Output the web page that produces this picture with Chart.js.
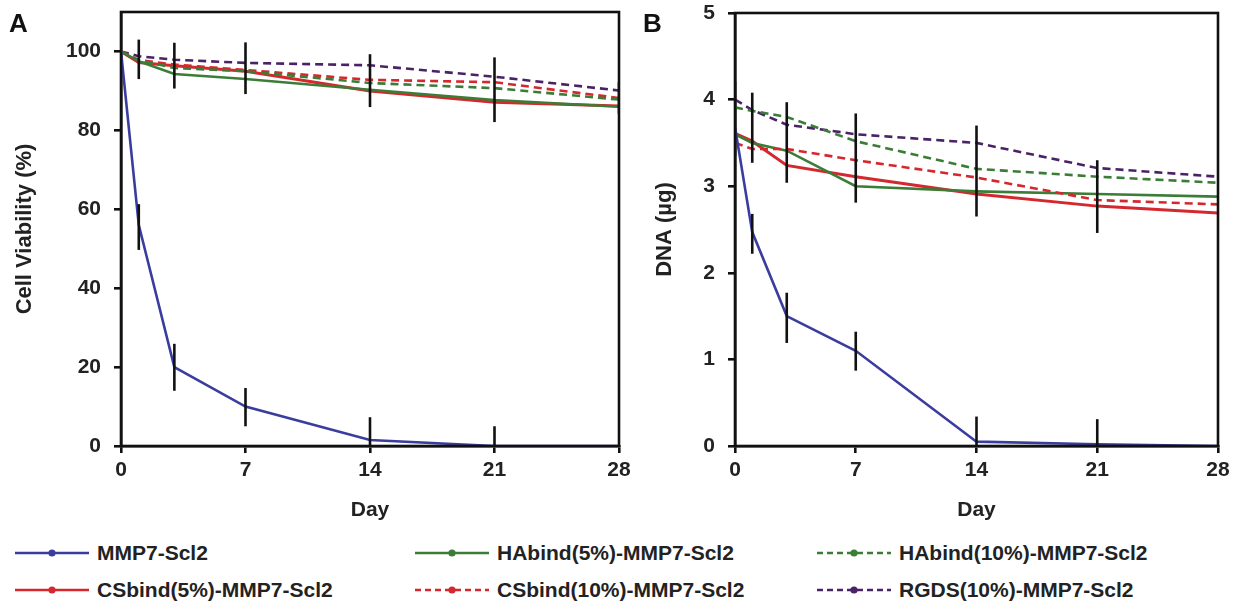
<!DOCTYPE html>
<html>
<head>
<meta charset="utf-8">
<script src="https://cdn.jsdelivr.net/npm/chart.js@4.4.1/dist/chart.umd.min.js"></script>
<style>
  body { margin: 0; background: #fff; }
  #wrap { position: relative; width: 1238px; height: 603px; overflow: hidden; font-family: "Liberation Sans", Arial, sans-serif; }
  canvas { position: absolute; top: 0; }
  #chartA { left: 0; }
  #chartB { left: 640px; }
  .leg { position: absolute; height: 20px; display: flex; align-items: center; font-weight: bold; font-size: 21px; color: #222; white-space: nowrap; }
  .leg svg { margin-right: 8px; }
</style>
</head>
<body>
<div id="wrap">
  <canvas id="chartA" width="640" height="530"></canvas>
  <canvas id="chartB" width="598" height="530"></canvas>
  <div id="legend"></div>
</div>
<script>
// sampling days
const days = [0, 1, 3, 7, 14, 21, 28];
const dayTicks = [0, 7, 14, 21, 28];

// series names
const names = [
  "MMP7-Scl2", "HAbind(5%)-MMP7-Scl2", "HAbind(10%)-MMP7-Scl2",
  "CSbind(5%)-MMP7-Scl2", "CSbind(10%)-MMP7-Scl2", "RGDS(10%)-MMP7-Scl2"
];

// A: cell viability (%)
const viabMMP = [100, 56, 20, 10, 1.5, 0, 0];
const viabHA5 = [100, 97.5, 94.3, 93, 90.3, 87.7, 86];
const viabHA10 = [100, 97.8, 95.8, 95, 92, 90.7, 87.8];
const viabCS5 = [100, 97.2, 96.4, 95, 90, 87.1, 86.2];
const viabCS10 = [100, 97.8, 96.7, 95.3, 92.8, 92.2, 88.2];
const viabRGDS = [100, 98.8, 97.9, 97.1, 96.5, 93.6, 90.1];

// B: DNA (ug)
const dnaMMP = [3.68, 2.47, 1.5, 1.1, 0.05, 0.02, 0];
const dnaHA5 = [3.6, 3.5, 3.41, 3.0, 2.94, 2.91, 2.88];
const dnaHA10 = [3.91, 3.87, 3.8, 3.52, 3.2, 3.11, 3.04];
const dnaCS5 = [3.61, 3.52, 3.24, 3.11, 2.91, 2.77, 2.69];
const dnaCS10 = [3.5, 3.43, 3.43, 3.3, 3.1, 2.84, 2.79];
const dnaRGDS = [4.0, 3.88, 3.71, 3.6, 3.5, 3.21, 3.11];

// error bar ranges (low / high)
const errDaysA = [1, 3, 7, 14, 21, 28];
const errLowA = [93, 90.6, 89.2, 85.9, 82.1, 84.2];
const errHighA = [103, 102.2, 102.3, 99.3, 98.5, 92.2];
const errDaysMMPA = [1, 3, 7, 14, 21];
const errLowMMPA = [49.7, 14, 5, -4, -5];
const errHighMMPA = [61.3, 25.9, 14.7, 7.3, 5];

const errDaysB = [0, 1, 3, 7, 14, 21];
const errLowB = [3.35, 3.27, 3.04, 2.81, 2.65, 2.46];
const errHighB = [4.21, 4.08, 3.97, 3.84, 3.7, 3.3];
const errDaysMMPB = [1, 3, 7, 14, 21];
const errLowMMPB = [2.22, 1.19, 0.87, -0.25, -0.27];
const errHighMMPB = [2.68, 1.77, 1.32, 0.34, 0.31];

const colors = ["#3b3d9e", "#3b7d37", "#3b7d37", "#d5282e", "#d5282e", "#4a2266"];
const dashed = [false, false, true, false, true, true];
// draw order: blue first, red solid last so it sits on top
const drawOrder = [0, 2, 4, 5, 1, 3];

const FONT = "'Liberation Sans', Arial, sans-serif";

function pts(vals) {
  return days.map((d, i) => ({ x: d, y: vals[i] }));
}

function makeDatasets(series) {
  return drawOrder.map(i => ({
    label: names[i],
    data: pts(series[i]),
    borderColor: colors[i],
    borderWidth: i === 3 ? 3 : 2.6,
    borderDash: dashed[i] ? [8, 5] : [],
    pointRadius: 0,
    fill: false,
    tension: 0
  }));
}

// black vertical error bars + box frame around the plot
const extras = {
  id: 'extras',
  afterDatasetsDraw(chart, args, opts) {
    const { ctx, chartArea: a, scales: { x, y } } = chart;
    ctx.save();
    ctx.beginPath();
    ctx.rect(a.left, a.top, a.right - a.left, a.bottom - a.top);
    ctx.clip();
    ctx.strokeStyle = '#111';
    ctx.lineWidth = 2.6;
    opts.bars.forEach(b => {
      b.days.forEach((d, i) => {
        const px = x.getPixelForValue(d);
        ctx.beginPath();
        ctx.moveTo(px, y.getPixelForValue(b.low[i]));
        ctx.lineTo(px, y.getPixelForValue(b.high[i]));
        ctx.stroke();
      });
    });
    ctx.restore();
    ctx.save();
    ctx.strokeStyle = '#111';
    ctx.lineWidth = 2.6;
    ctx.strokeRect(a.left, a.top, a.right - a.left, a.bottom - a.top);
    ctx.fillStyle = '#111';
    ctx.font = 'bold 26px ' + FONT;
    ctx.textBaseline = 'top';
    ctx.fillText(opts.letter, opts.letterX, 12);
    ctx.restore();
  }
};

function makeChart(id, series, yOpts, yTitle, yWidth, padTop, padRight, bars, letter, letterX) {
  return new Chart(document.getElementById(id), {
    type: 'line',
    data: { datasets: makeDatasets(series) },
    options: {
      responsive: false,
      animation: false,
      layout: { padding: { top: padTop, right: padRight, left: 0, bottom: 0 } },
      plugins: {
        legend: { display: false },
        tooltip: { enabled: false },
        extras: { bars, letter, letterX }
      },
      scales: {
        x: {
          type: 'linear', min: 0, max: 28,
          afterBuildTicks: s => { s.ticks = dayTicks.map(v => ({ value: v })); },
          afterFit: s => { s.height = 84; s.paddingLeft = 0; s.paddingRight = 0; },
          ticks: { color: '#222', padding: 5, font: { family: FONT, size: 21, weight: 'bold' } },
          grid: { drawOnChartArea: false, drawTicks: true, tickLength: 7, color: '#111', lineWidth: 2.6 },
          border: { display: true, color: '#111', width: 2.6 },
          title: { display: true, text: 'Day', color: '#222', padding: { top: 4, bottom: 7 }, font: { family: FONT, size: 21, weight: 'bold' } }
        },
        y: Object.assign({
          afterFit: s => { s.width = yWidth; s.paddingTop = 0; s.paddingBottom = 0; },
          ticks: { color: '#222', padding: 13, font: { family: FONT, size: 21, weight: 'bold' } },
          grid: { drawOnChartArea: false, drawTicks: true, tickLength: 7, color: '#111', lineWidth: 2.6 },
          border: { display: true, color: '#111', width: 2.6 },
          title: { display: true, text: yTitle, color: '#222', padding: { top: 12, bottom: 0 }, font: { family: FONT, size: 22, weight: 'bold' } }
        }, yOpts)
      }
    },
    plugins: [extras]
  });
}

makeChart('chartA',
  [viabMMP, viabHA5, viabHA10, viabCS5, viabCS10, viabRGDS],
  { min: 0, max: 110, afterBuildTicks: s => { s.ticks = [0, 20, 40, 60, 80, 100].map(v => ({ value: v })); } },
  'Cell Viability (%)', 121, 12, 21,
  [
    { days: errDaysA, low: errLowA, high: errHighA },
    { days: errDaysMMPA, low: errLowMMPA, high: errHighMMPA }
  ], 'A', 9);

makeChart('chartB',
  [dnaMMP, dnaHA5, dnaHA10, dnaCS5, dnaCS10, dnaRGDS],
  { min: 0, max: 5, ticks: { stepSize: 1, color: '#222', padding: 13, font: { family: FONT, size: 21, weight: 'bold' } } },
  'DNA (\u00b5g)', 95, 13, 20,
  [
    { days: errDaysB, low: errLowB, high: errHighB },
    { days: errDaysMMPB, low: errLowMMPB, high: errHighMMPB }
  ], 'B', 3);

// legend: two rows of three entries
const legCols = [15, 415, 817];
const legRows = [543, 580];
const legOrder = [0, 1, 2, 3, 4, 5];
const legend = document.getElementById('legend');
legOrder.forEach((i, k) => {
  const el = document.createElement('div');
  el.className = 'leg';
  el.style.left = legCols[k % 3] + 'px';
  el.style.top = legRows[Math.floor(k / 3)] + 'px';
  const dash = dashed[i] ? ' stroke-dasharray="6,4"' : '';
  el.innerHTML =
    '<svg width="74" height="12"><line x1="0" y1="6" x2="74" y2="6" stroke="' + colors[i] +
    '" stroke-width="2.6"' + dash + '/><circle cx="37" cy="6" r="3.6" fill="' + colors[i] + '"/></svg>' +
    '<span>' + names[i] + '</span>';
  legend.appendChild(el);
});
</script>
</body>
</html>
